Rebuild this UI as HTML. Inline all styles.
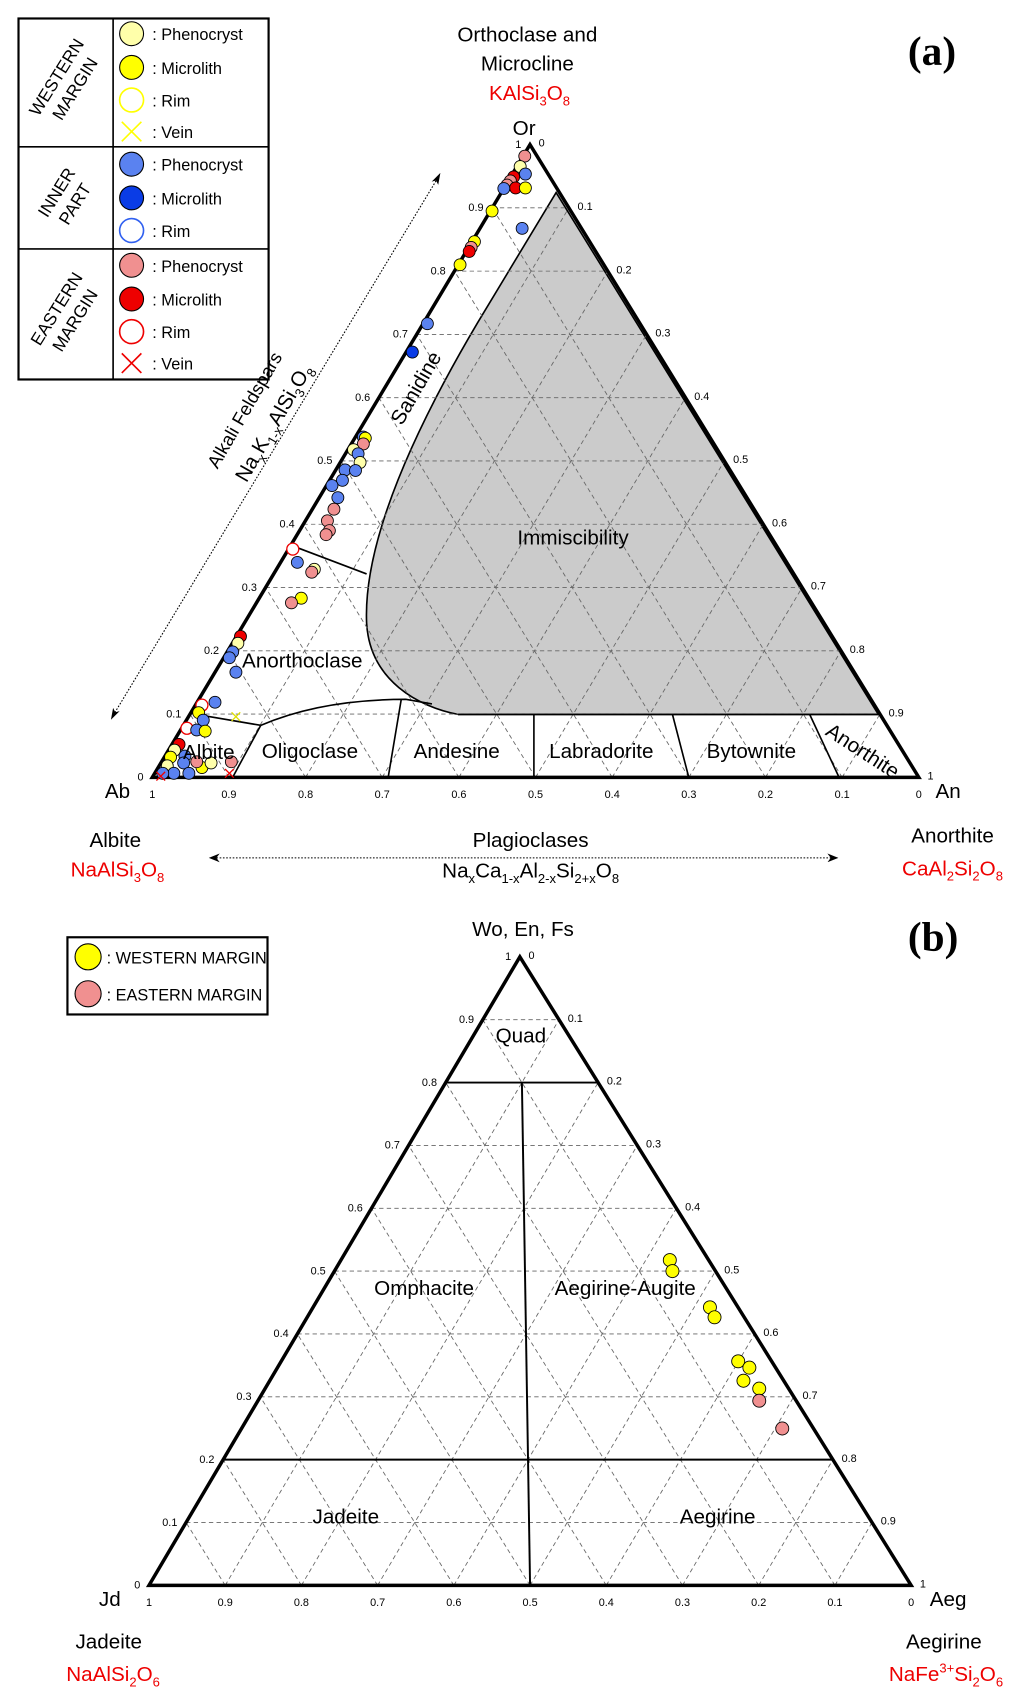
<!DOCTYPE html>
<html><head><meta charset="utf-8"><style>
html,body{margin:0;padding:0;background:#fff;}
svg{display:block;font-family:"Liberation Sans",sans-serif;}
</style></head><body>
<svg id="s" width="1033" height="1706" viewBox="0 0 950 1569" xmlns="http://www.w3.org/2000/svg">
<defs>
<marker id="ah" markerWidth="10" markerHeight="8" refX="9" refY="4" orient="auto"><path d="M0,0 L10,4 L0,8 L3,4 z" fill="#000"/></marker>
</defs>
<g id="g"></g>
<!-- legend a -->
<rect x="17" y="17" width="230" height="332" fill="#fff" stroke="#000" stroke-width="2"/>
<line x1="17" y1="135" x2="247" y2="135" stroke="#000" stroke-width="1.5"/>
<line x1="17" y1="229" x2="247" y2="229" stroke="#000" stroke-width="1.5"/>
<line x1="104" y1="17" x2="104" y2="349" stroke="#000" stroke-width="1.5"/>
<g font-size="16" text-anchor="middle">
<text transform="translate(60,76) rotate(-58)"><tspan x="0" dy="-4">WESTERN</tspan><tspan x="0" dy="20">MARGIN</tspan></text>
<text transform="translate(60,182) rotate(-58)"><tspan x="0" dy="-4">INNER</tspan><tspan x="0" dy="20">PART</tspan></text>
<text transform="translate(60,289) rotate(-58)"><tspan x="0" dy="-4">EASTERN</tspan><tspan x="0" dy="20">MARGIN</tspan></text>
</g>
<g font-size="15">
<circle cx="121" cy="31" r="11" fill="#ffffaa" stroke="#000"/><text x="140" y="37">: Phenocryst</text>
<circle cx="121" cy="62" r="11" fill="#ffff00" stroke="#000"/><text x="140" y="68">: Microlith</text>
<circle cx="121" cy="92" r="11" fill="#fff" stroke="#ffff00" stroke-width="1.5"/><text x="140" y="98">: Rim</text>
<path d="M112,112 L130,130 M130,112 L112,130" stroke="#ffff00" stroke-width="1.5"/><text x="140" y="127">: Vein</text>
<circle cx="121" cy="151" r="11" fill="#5a82f0" stroke="#000"/><text x="140" y="157">: Phenocryst</text>
<circle cx="121" cy="182" r="11" fill="#0a3ce6" stroke="#000"/><text x="140" y="188">: Microlith</text>
<circle cx="121" cy="212" r="11" fill="#fff" stroke="#3060f0" stroke-width="1.5"/><text x="140" y="218">: Rim</text>
<circle cx="121" cy="244" r="11" fill="#f09090" stroke="#000"/><text x="140" y="250">: Phenocryst</text>
<circle cx="121" cy="275" r="11" fill="#ee0000" stroke="#000"/><text x="140" y="281">: Microlith</text>
<circle cx="121" cy="305" r="11" fill="#fff" stroke="#ee0000" stroke-width="1.5"/><text x="140" y="311">: Rim</text>
<path d="M112,325 L130,343 M130,325 L112,343" stroke="#ee0000" stroke-width="1.5"/><text x="140" y="340">: Vein</text>
</g>
<!-- legend b -->
<rect x="62" y="862" width="184" height="71" fill="#fff" stroke="#000" stroke-width="2"/>
<circle cx="81" cy="880" r="12" fill="#ffff00" stroke="#000"/>
<circle cx="81" cy="914" r="12" fill="#f09090" stroke="#000"/>
<text x="98" y="886" font-size="15">: WESTERN MARGIN</text>
<text x="98" y="920" font-size="15">: EASTERN MARGIN</text>
<!-- titles -->
<g font-family="Liberation Serif,serif" font-weight="bold" font-size="38">
<text x="835" y="60">(a)</text><text x="835" y="874">(b)</text></g>
<g font-size="19" text-anchor="middle">
<text x="485" y="38">Orthoclase and</text>
<text x="485" y="65">Microcline</text>
<text x="487" y="92" fill="#e00">KAlSi<tspan font-size="12" dy="5">3</tspan><tspan dy="-5">O</tspan><tspan font-size="12" dy="5">8</tspan></text>
<text x="482" y="124">Or</text>
<text x="108" y="734">Ab</text>
<text x="872" y="734">An</text>
<text x="106" y="779">Albite</text>
<text x="108" y="806" fill="#e00">NaAlSi<tspan font-size="12" dy="5">3</tspan><tspan dy="-5">O</tspan><tspan font-size="12" dy="5">8</tspan></text>
<text x="488" y="779">Plagioclases</text>
<text x="488" y="807">Na<tspan font-size="12" dy="5">x</tspan><tspan dy="-5">Ca</tspan><tspan font-size="12" dy="5">1-x</tspan><tspan dy="-5">Al</tspan><tspan font-size="12" dy="5">2-x</tspan><tspan dy="-5">Si</tspan><tspan font-size="12" dy="5">2+x</tspan><tspan dy="-5">O</tspan><tspan font-size="12" dy="5">8</tspan></text>
<text x="876" y="775">Anorthite</text>
<text x="876" y="805" fill="#e00">CaAl<tspan font-size="12" dy="5">2</tspan><tspan dy="-5">Si</tspan><tspan font-size="12" dy="5">2</tspan><tspan dy="-5">O</tspan><tspan font-size="12" dy="5">8</tspan></text>
<text x="481" y="861">Wo, En, Fs</text>
<text x="101" y="1477">Jd</text>
<text x="872" y="1477">Aeg</text>
<text x="100" y="1516">Jadeite</text>
<text x="104" y="1546" fill="#e00">NaAlSi<tspan font-size="12" dy="5">2</tspan><tspan dy="-5">O</tspan><tspan font-size="12" dy="5">6</tspan></text>
<text x="868" y="1516">Aegirine</text>
<text x="870" y="1546" fill="#e00">NaFe<tspan font-size="12" dy="-8">3+</tspan><tspan dy="8">Si</tspan><tspan font-size="12" dy="5">2</tspan><tspan dy="-5">O</tspan><tspan font-size="12" dy="5">6</tspan></text>
<text x="527" y="501">Immiscibility</text>
<text x="278" y="614">Anorthoclase</text>
<text x="192" y="698">Albite</text>
<text x="285" y="697">Oligoclase</text>
<text x="420" y="697">Andesine</text>
<text x="553" y="697">Labradorite</text>
<text x="691" y="697">Bytownite</text>
<text transform="translate(790,696) rotate(33)">Anorthite</text>
<text transform="translate(388,360) rotate(-60)">Sanidine</text>
<text x="479" y="959">Quad</text>
<text x="390" y="1191">Omphacite</text>
<text x="575" y="1191">Aegirine-Augite</text>
<text x="318" y="1401">Jadeite</text>
<text x="660" y="1401">Aegirine</text>
<text transform="translate(230,380) rotate(-60)" font-size="17">Alkali Feldspars</text>
<text transform="translate(257,392) rotate(-60)">Na<tspan font-size="12" dy="5">x</tspan><tspan dy="-5">K</tspan><tspan font-size="12" dy="5">1-x</tspan><tspan dy="-5">AlSi</tspan><tspan font-size="12" dy="5">3</tspan><tspan dy="-5">O</tspan><tspan font-size="12" dy="5">8</tspan></text>
</g>
<line x1="196" y1="789" x2="770" y2="789" stroke="#000" stroke-dasharray="1.5,1.5" marker-end="url(#ah)"/>
<line x1="104" y1="658" x2="403" y2="163" stroke="#000" stroke-dasharray="1.5,1.5"/>
<path d="M192,789 l10,-4 l-3,4 l3,4z M102,662 l2,-11 l2,4 l4,-1z M405,159 l-2,11 l-2,-4 l-4,1z" fill="#000"/>
<script>
var NS="http://www.w3.org/2000/svg",G=document.getElementById('g');
function el(t,a,txt){var e=document.createElementNS(NS,t);for(var k in a)e.setAttribute(k,a[k]);if(txt!=null)e.textContent=txt;G.appendChild(e);return e;}
function lerp(a,b,t){return [a[0]+(b[0]-a[0])*t,a[1]+(b[1]-a[1])*t];}
function line(p,q,st,w,da){var a={x1:p[0],y1:p[1],x2:q[0],y2:q[1],stroke:st,'stroke-width':w};if(da)a['stroke-dasharray']=da;el('line',a);}
function cv(x,y){return [0.601*x+6.6,0.5315*y-6.3];}
function cv2(x,y){return [0.6048*x-0.9,0.4825*y+811.5];}
function tri(L,R,T){
 for(var i=1;i<10;i++){var t=i/10;
  line(lerp(L,T,t),lerp(R,T,t),'#666',0.8,'4,3');
  line(lerp(L,R,t),lerp(R,T,1-t),'#666',0.8,'4,3');
  line(lerp(L,R,t),lerp(L,T,t),'#666',0.8,'4,3');}
}
function ticks(L,R,T){
 for(var i=0;i<=10;i++){var t=i/10,s=(i==0?'0':i==10?'1':(t).toFixed(1));
  var p=lerp(L,T,t);el('text',{x:p[0]-8,y:p[1]+3,'font-size':10,'text-anchor':'end'},s);
  var q=lerp(T,R,t);el('text',{x:q[0]+8,y:q[1]+2,'font-size':10},s);
  var b=lerp(L,R,t),v=1-t;el('text',{x:b[0],y:b[1]+19,'font-size':10,'text-anchor':'middle'},i==0?'1':i==10?'0':v.toFixed(1));}
}
function outline(L,R,T){el('path',{d:'M'+L+'L'+R+'L'+T+'Z',fill:'none',stroke:'#000','stroke-width':3.2});}
var A_L=cv(222,1357),A_R=cv(1395,1357),A_T=cv(800,262);
var d='M'+cv(840,345)+' L'+cv(1333,1248)+' L'+cv(690,1248)+' C'+cv(630,1235)+' '+cv(555,1190)+' '+cv(550,1090)+' C'+cv(545,960)+' '+cv(610,780)+' '+cv(720,570)+' L'+cv(840,345)+' Z';
el('path',{d:d,fill:'#cbcbcb',stroke:'#000','stroke-width':1.5});
tri(A_L,A_R,A_T);
function sl(a,b,c,e){line(cv(a,b),cv(c,e),'#000',1.5);}
sl(445,960,550,1005);sl(300,1250,388,1267);sl(388,1267,345,1357);sl(603,1222,583,1357);
sl(806,1248,806,1357);sl(1018,1248,1043,1357);sl(1228,1248,1273,1357);sl(690,1248,1333,1248);
el('path',{d:'M'+cv(388,1267)+' Q'+cv(480,1222)+' '+cv(610,1222)+' L'+cv(650,1230),fill:'none',stroke:'#000','stroke-width':1.5});
outline(A_L,A_R,A_T);ticks(A_L,A_R,A_T);
var C={Y:'#ffffaa',y:'#ffff00',B:'#5a82f0',b:'#0a3ce6',P:'#f09090',R:'#ee0000'};
var pts=[[792,282,'P'],[785,300,'Y'],[793,313,'B'],[775,318,'R'],[770,325,'P'],[765,332,'P'],[778,337,'R'],[793,337,'y'],[760,338,'B'],[742,377,'y'],[788,407,'B'],[715,430,'y'],[710,440,'P'],[707,447,'R'],[693,470,'y'],[643,572,'B'],[620,621,'b'],[545,768,'B'],[548,770,'y'],[545,780,'P'],[530,790,'Y'],[537,797,'B'],[540,812,'Y'],[517,825,'B'],[533,826,'B'],[513,843,'B'],[497,852,'B'],[506,873,'B'],[500,893,'P'],[490,913,'P'],[493,930,'P'],[488,937,'P'],[437,962,'r'],[444,985,'B'],[470,997,'Y'],[466,1002,'P'],[450,1047,'y'],[435,1055,'P'],[357,1113,'R'],[353,1125,'Y'],[345,1140,'B'],[340,1150,'B'],[350,1175,'B'],[318,1227,'B'],[298,1232,'r'],[293,1245,'y'],[300,1258,'B'],[275,1272,'r'],[290,1275,'B'],[303,1277,'y'],[263,1300,'R'],[256,1310,'Y'],[250,1322,'y'],[272,1320,'B'],[245,1337,'Y'],[270,1332,'B'],[298,1340,'y'],[312,1332,'Y'],[343,1330,'P'],[290,1330,'P'],[278,1350,'B'],[255,1350,'B'],[238,1350,'B']];
pts.forEach(function(p){var c=cv(p[0],p[1]);if(p[2]=='r')el('circle',{cx:c[0],cy:c[1],r:5.5,fill:'#fff',stroke:'#e00','stroke-width':1.2});else el('circle',{cx:c[0],cy:c[1],r:5.5,fill:C[p[2]],stroke:'#000','stroke-width':0.8});});
[[350,1252,'#dd0'],[235,1355,'#e00'],[340,1350,'#e00']].forEach(function(p){var c=cv(p[0],p[1]);el('path',{d:'M'+(c[0]-4)+','+(c[1]-4)+'l8,8m0,-8l-8,8',stroke:p[2],'stroke-width':1.2});});
var B_L=cv2(228,1340),B_R=cv2(1387,1340),B_T=cv2(792,142);
tri(B_L,B_R,B_T);
var p8a=lerp(B_L,B_T,0.8),p8b=lerp(B_R,B_T,0.8);
line(p8a,p8b,'#000',1.8);
line(lerp(B_L,B_T,0.2),lerp(B_R,B_T,0.2),'#000',1.8);
line([(B_L[0]+B_R[0])/2,B_L[1]],[(p8a[0]+p8b[0])/2,p8a[1]],'#000',1.8);
outline(B_L,B_R,B_T);ticks(B_L,B_R,B_T);
[[1020,720,'y'],[1024,741,'y'],[1081,810,'y'],[1088,829,'y'],[1124,913,'y'],[1141,925,'y'],[1132,950,'y'],[1156,965,'y'],[1156,988,'P'],[1191,1041,'P']].forEach(function(p){var c=cv2(p[0],p[1]);el('circle',{cx:c[0],cy:c[1],r:6,fill:C[p[2]],stroke:'#000','stroke-width':0.8});});
</script>
</svg>
</body></html>
